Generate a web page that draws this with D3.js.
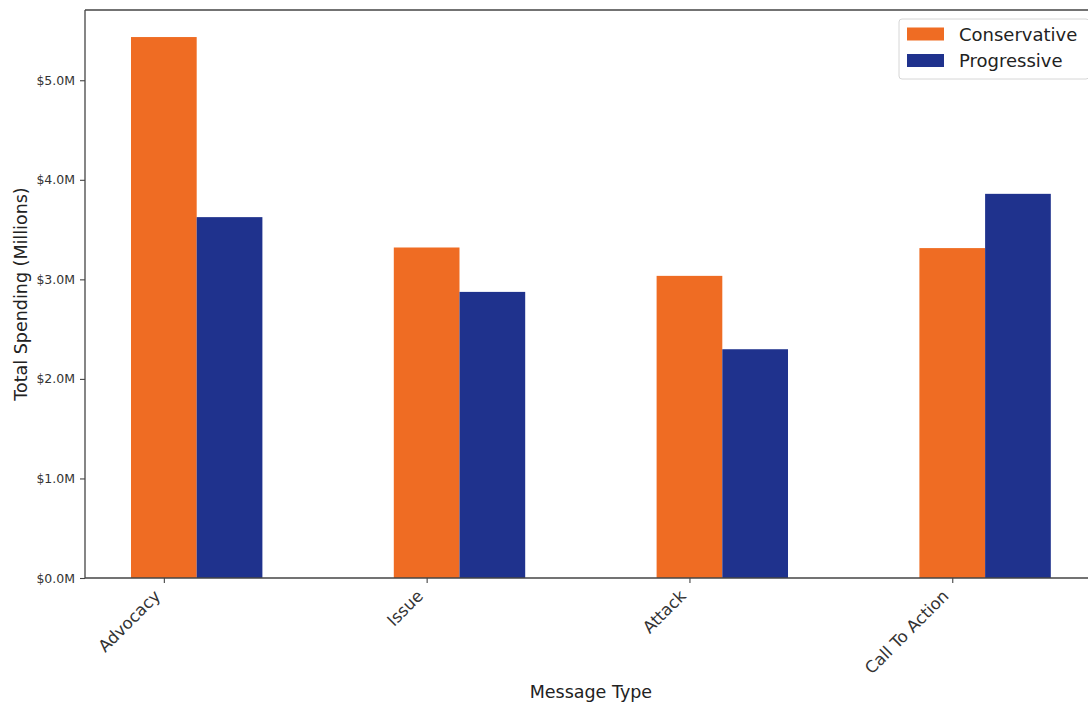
<!DOCTYPE html>
<html>
<head>
<meta charset="utf-8">
<script src="https://cdn.jsdelivr.net/npm/d3@7"></script>
<style>
  html, body { margin: 0; padding: 0; background: #fff; }
  svg { display: block; font-family: "DejaVu Sans", sans-serif; }
</style>
</head>
<body>
<svg id="chart" width="1088" height="703"></svg>
<script>
// ---- data ----
const categories = ["Advocacy", "Issue", "Attack", "Call To Action"];
const seriesNames = ["Conservative", "Progressive"];
const conservative = [5.434, 3.320, 3.035, 3.314];
const progressive = [3.625, 2.874, 2.298, 3.859];
const yTickValues = [0, 1, 2, 3, 4, 5];
const yTickLabels = ["$0.0M", "$1.0M", "$2.0M", "$3.0M", "$4.0M", "$5.0M"];
const colors = ["#ef6c23", "#1f328d"];
const xLabel = "Message Type";
const yLabel = "Total Spending (Millions)";

// ---- layout ----
const mLeft = 85, mRight = 1096.8, mTop = 10, mBottom = 578;
const barW = 0.25;
const allVals = conservative.concat(progressive);
const yMax = d3.max(allVals) * 1.05;

const svg = d3.select("#chart");
const x = d3.scaleLinear().domain([-0.3, categories.length - 1 + 0.55]).range([mLeft, mRight]);
const y = d3.scaleLinear().domain([0, yMax]).range([mBottom, mTop]);

const series = [conservative, progressive];

// bars
series.forEach((vals, s) => {
  svg.append("g").selectAll("rect")
    .data(vals)
    .join("rect")
    .attr("x", (d, i) => x(i - barW / 2 + s * barW))
    .attr("width", (d, i) => x(i + barW / 2 + s * barW) - x(i - barW / 2 + s * barW))
    .attr("y", d => y(d))
    .attr("height", d => y(0) - y(d))
    .attr("fill", colors[s]);
});

// y axis
const yAxis = d3.axisLeft(y)
  .tickValues(yTickValues)
  .tickFormat((d, i) => yTickLabels[i])
  .tickSize(5)
  .tickPadding(5);
const gy = svg.append("g").attr("transform", `translate(${mLeft},0)`).call(yAxis);
gy.select(".domain").remove();
gy.selectAll(".tick line").attr("stroke", "#444").attr("stroke-width", 1.1);
gy.selectAll(".tick text").attr("font-size", 12.5).attr("fill", "#333")
  .attr("font-family", "DejaVu Sans");

// x axis
const xAxis = d3.axisBottom(x)
  .tickValues(d3.range(categories.length))
  .tickFormat(i => categories[i])
  .tickSize(5)
  .tickPadding(3);
const gx = svg.append("g").attr("transform", `translate(0,${mBottom})`).call(xAxis);
gx.select(".domain").remove();
gx.selectAll(".tick line").attr("stroke", "#444").attr("stroke-width", 1.1);
gx.selectAll(".tick text")
  .attr("font-size", 16.5).attr("fill", "#333")
  .attr("font-family", "DejaVu Sans")
  .attr("text-anchor", "end")
  .attr("dy", null)
  .attr("y", null)
  .attr("transform", "translate(-3,19) rotate(-45)");

// spines
const spine = svg.append("g").attr("stroke", "#444").attr("stroke-width", 1.3).attr("fill", "none");
spine.append("line").attr("x1", mLeft).attr("x2", mLeft).attr("y1", mTop).attr("y2", mBottom);
spine.append("line").attr("x1", mLeft).attr("x2", mRight).attr("y1", mBottom).attr("y2", mBottom);
spine.append("line").attr("x1", mLeft).attr("x2", mRight).attr("y1", mTop).attr("y2", mTop);
spine.append("line").attr("x1", mRight).attr("x2", mRight).attr("y1", mTop).attr("y2", mBottom);

// axis labels
svg.append("text")
  .attr("x", (mLeft + mRight) / 2).attr("y", 698)
  .attr("text-anchor", "middle")
  .attr("font-size", 17.5).attr("fill", "#222")
  .text(xLabel);
svg.append("text")
  .attr("transform", `translate(27,${(mTop + mBottom) / 2}) rotate(-90)`)
  .attr("text-anchor", "middle")
  .attr("font-size", 17.5).attr("fill", "#222")
  .text(yLabel);

// legend
const lg = svg.append("g");
lg.append("rect")
  .attr("x", 899).attr("y", 19).attr("width", 190).attr("height", 60)
  .attr("rx", 3).attr("fill", "#fff").attr("fill-opacity", 0.85)
  .attr("stroke", "#d6d6d6").attr("stroke-width", 1);
seriesNames.forEach((name, s) => {
  const cy = 34 + s * 26.5;
  lg.append("rect").attr("x", 907).attr("y", cy - 6.5).attr("width", 37).attr("height", 13).attr("fill", colors[s]);
  lg.append("text").attr("x", 959).attr("y", cy + 6.5)
    .attr("font-size", 18).attr("fill", "#222").text(name);
});
</script>
</body>
</html>
